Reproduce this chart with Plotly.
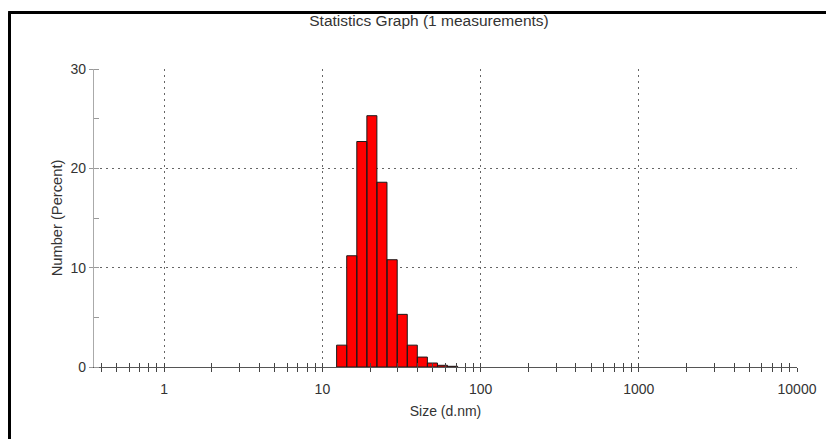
import plotly.graph_objects as go
import math

# ---- data ----
size_lower_nm = [12.3, 14.25, 16.5, 19.1, 22.1, 25.6, 29.7, 34.4, 39.8, 46.1, 53.4, 61.8]
size_upper_nm = [14.25, 16.5, 19.1, 22.1, 25.6, 29.7, 34.4, 39.8, 46.1, 53.4, 61.8, 71.6]
number_percent = [2.2, 11.2, 22.7, 25.3, 18.6, 10.8, 5.3, 2.2, 1.0, 0.4, 0.17, 0.07]

x_tick_vals = [1, 10, 100, 1000, 10000]
x_tick_text = ["1", "10", "100", "1000", "10000"]
y_tick_vals = [0, 10, 20, 30]
y_tick_text = ["0", "10", "20", "30"]

title_text = "Statistics Graph (1 measurements)"
x_title = "Size (d.nm)"
y_title = "Number (Percent)"

# ---- figure ----
W, H = 826, 439
ml, mr, mt, mb = 94, 29, 69, 72
pw, ph = W - ml - mr, H - mt - mb

bx, by = [], []
for lo, hi, v in zip(size_lower_nm, size_upper_nm, number_percent):
    bx += [lo, lo, hi, hi, lo, None]
    by += [0, v, v, 0, 0, None]

fig = go.Figure()
fig.add_trace(go.Scatter(
    x=bx, y=by, mode="lines", fill="toself", fillcolor="#ff0000",
    line=dict(color="#1a1a1a", width=1), hoverinfo="skip", showlegend=False,
))
# invisible trace to activate overlaid axis
fig.add_trace(go.Scatter(x=[1], y=[0], xaxis="x2", mode="markers",
                         marker=dict(opacity=0), showlegend=False, hoverinfo="skip"))

xr = [math.log10(0.36), 4.0]
font_family = "Liberation Sans, Arial, sans-serif"
grid_kw = dict(showgrid=True, gridcolor="#666666", gridwidth=1.3, griddash="2px,4px")

# frame edges (figure pixels converted to paper fractions)
fx0 = (9.5 - ml) / pw
fy1 = (H - mb - 12.5) / ph

fig.update_layout(
    width=W, height=H,
    margin=dict(l=ml, r=mr, t=mt, b=mb, autoexpand=False),
    paper_bgcolor="white", plot_bgcolor="white",
    font=dict(family=font_family, size=13, color="#333333"),
    xaxis=dict(
        type="log", range=xr, tickmode="array", tickvals=x_tick_vals, ticktext=x_tick_text,
        ticks="outside", ticklen=4, tickcolor="#444", tickwidth=1,
        minor=dict(ticks="outside", ticklen=4, tickcolor="#444", dtick="D1", showgrid=False),
        showline=True, linecolor="#555555", linewidth=1.2,
        zeroline=False, tickfont=dict(size=14, color="#333"), ticklabelstandoff=5,
        title=dict(text=x_title, standoff=10, font=dict(size=14, color="#333")),
        **grid_kw,
    ),
    xaxis2=dict(
        type="log", range=xr, overlaying="x", anchor="y",
        tickmode="array", tickvals=x_tick_vals, showticklabels=False,
        ticks="inside", ticklen=4, tickcolor="#444", tickwidth=1,
        minor=dict(ticks="inside", ticklen=4, tickcolor="#444", dtick="D1", showgrid=False),
        showgrid=False, showline=False, zeroline=False,
    ),
    yaxis=dict(
        range=[0, 30], tickmode="array", tickvals=y_tick_vals, ticktext=y_tick_text,
        ticks="outside", ticklen=4, tickcolor="#999", tickwidth=1,
        minor=dict(ticks="inside", ticklen=5, tickcolor="#999", dtick=5, showgrid=False),
        showline=True, linecolor="#aaaaaa", linewidth=1.2,
        zeroline=False, tickfont=dict(size=14, color="#333"),
        title=dict(text=y_title, standoff=4, font=dict(size=14.7, color="#333")),
        **grid_kw,
    ),
    title=dict(text=title_text, x=(429 - ml) / pw, xref="paper", xanchor="center",
               y=1 - 21 / H, yref="container", yanchor="middle",
               font=dict(size=15.5, color="#333")),
    shapes=[
        dict(type="line", xref="paper", yref="paper", x0=fx0 - 0.002, x1=1.3, y0=fy1, y1=fy1,
             line=dict(color="black", width=3), layer="above"),
        dict(type="line", xref="paper", yref="paper", x0=fx0, x1=fx0, y0=fy1, y1=-0.5,
             line=dict(color="black", width=3), layer="above"),
    ],
)

fig.write_html("out.html", config={"displayModeBar": False},
               post_script="document.body.style.margin='0';document.body.style.overflow='hidden';")
